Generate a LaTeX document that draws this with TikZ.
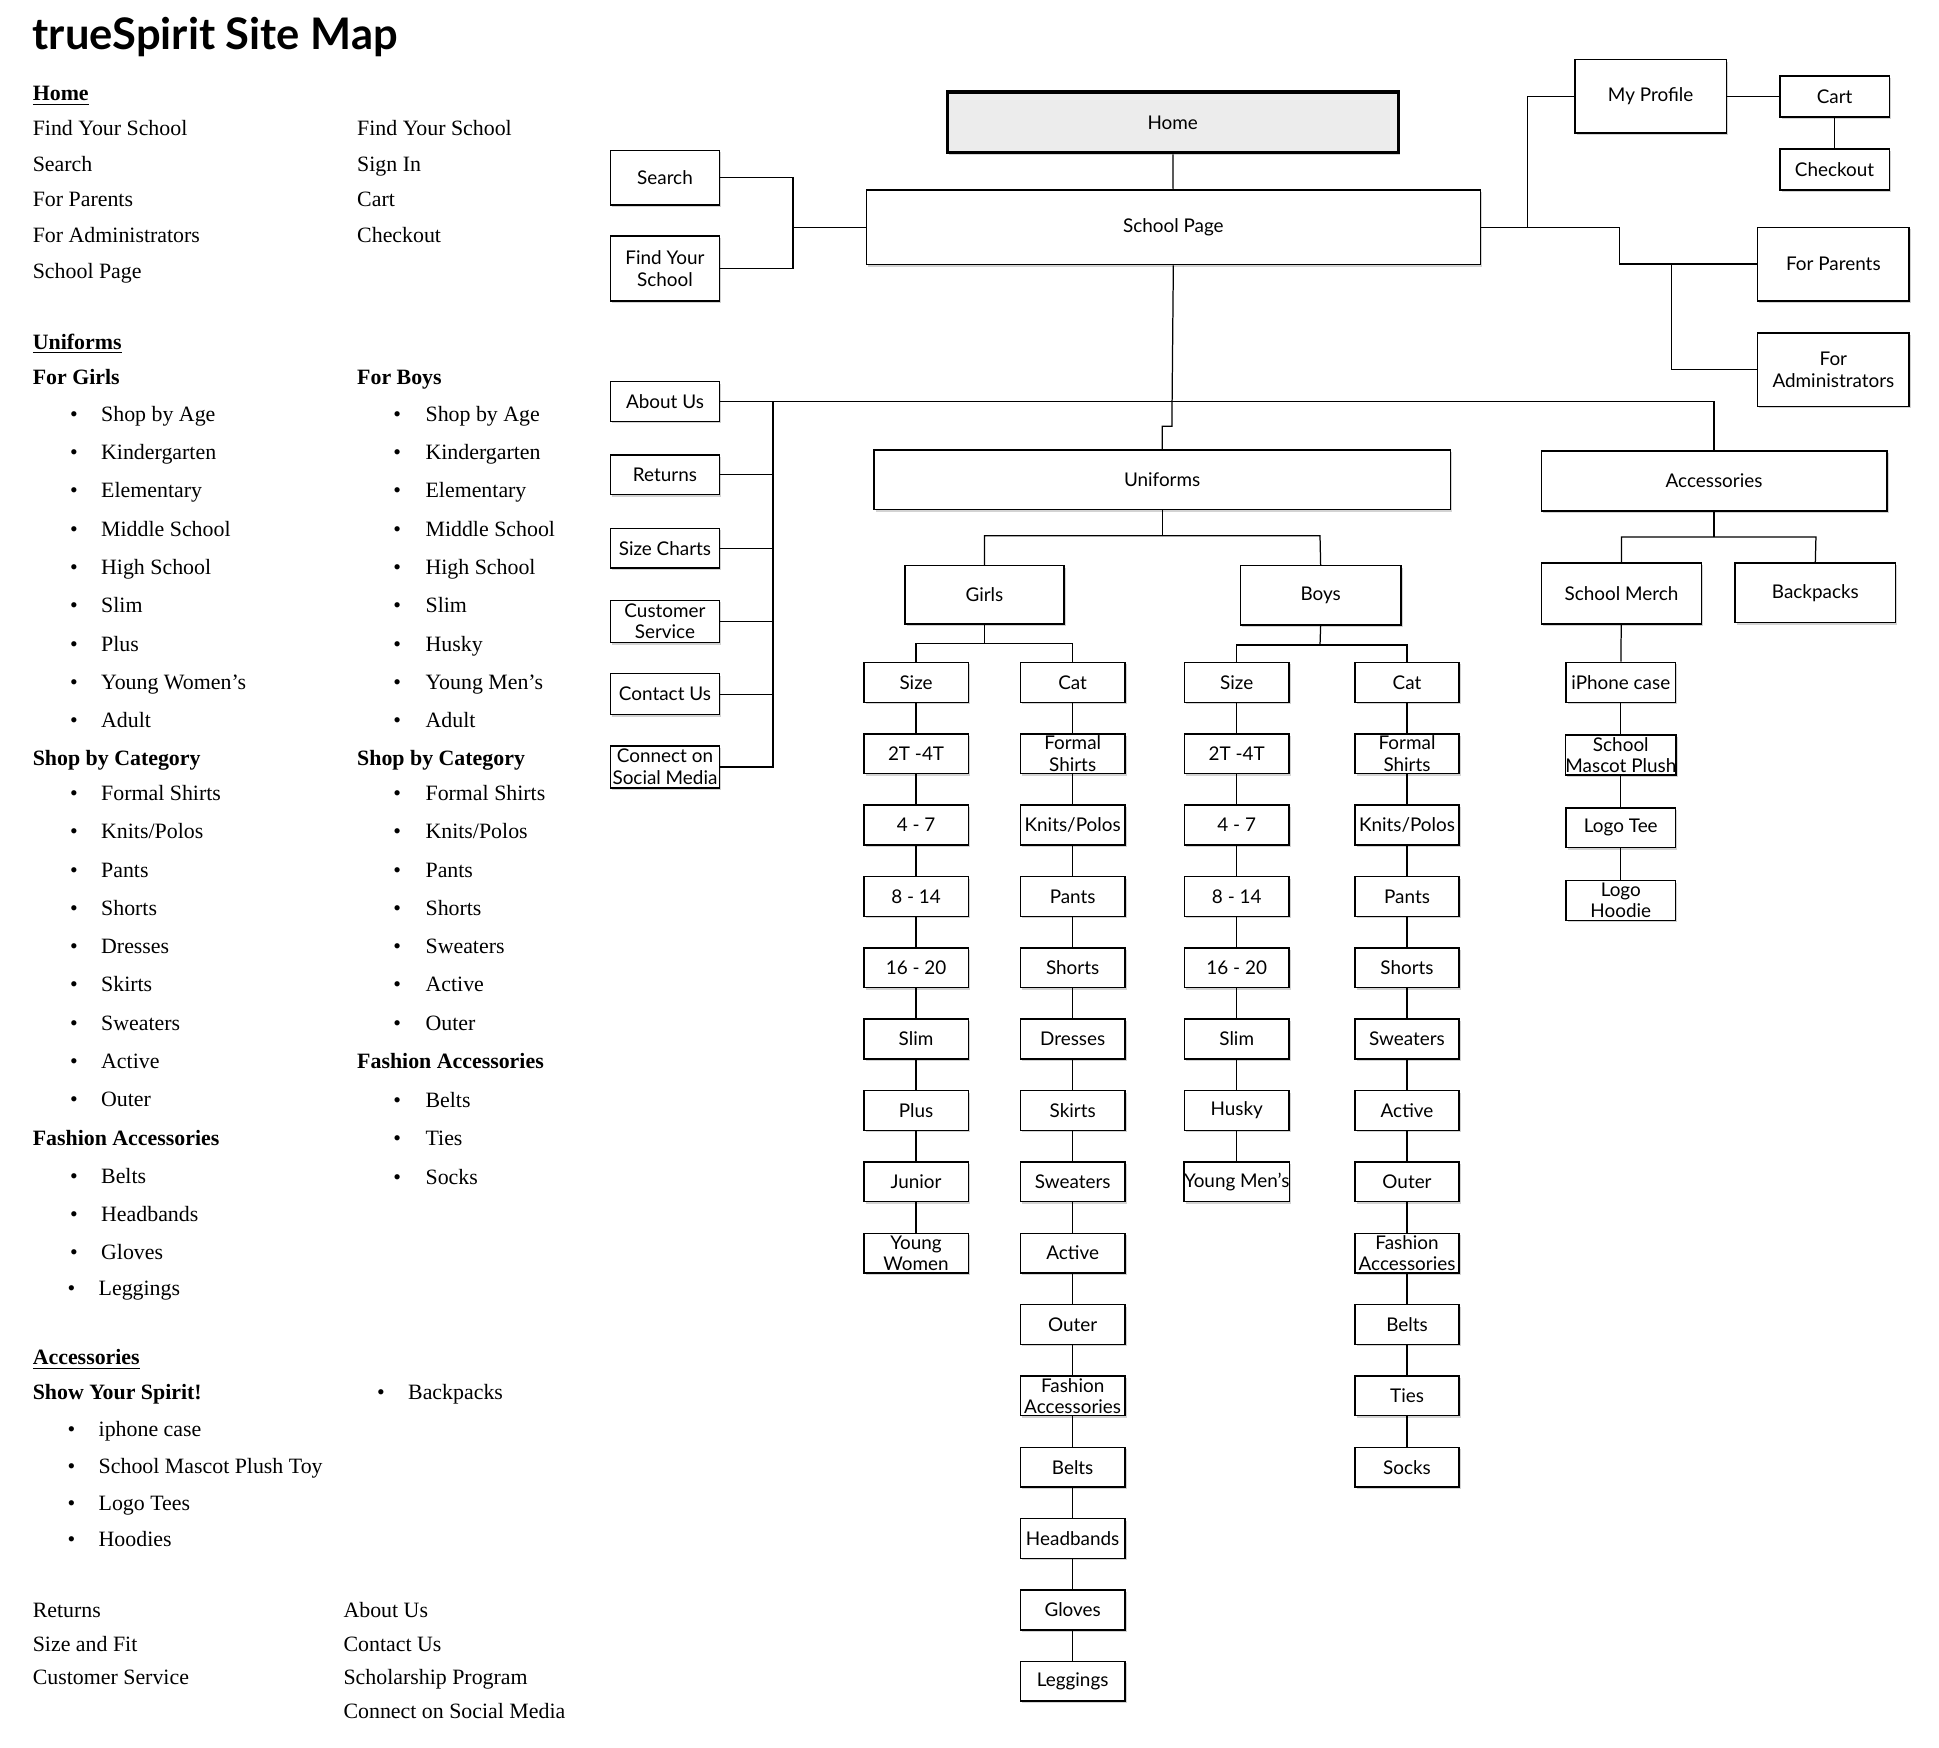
\documentclass[tikz,border=0pt]{standalone}
\usepackage{fontspec}
\setmainfont{Liberation Serif}
\newfontfamily\gill{Lato}
\usetikzlibrary{shadows}
\tikzset{
 box/.style={draw, fill=white, line width=0.6pt, inner sep=0pt, align=center, font=\gill\fontsize{7.6}{8.6}\selectfont,
   drop shadow={shadow xshift=0.7pt, shadow yshift=-0.8pt, opacity=0.35}},
 conn/.style={line width=0.5pt},
 lt/.style={anchor=base west, inner sep=0pt, font=\fontsize{8.8}{10}\selectfont},
 lb/.style={lt, font=\bfseries\fontsize{8.8}{10}\selectfont},
}
\newcommand\bx[6]{\node[box, minimum width={(#4-#2)*0.5pt}, minimum height={(#5-#3)*0.5pt}] (#1) at ({(#2+#4)/2},{(#3+#5)/2}) {#6};}
\begin{document}
\begin{tikzpicture}[x=0.5pt,y=-0.5pt]
\useasboundingbox (0,0) rectangle (1560,1406);
\node[anchor=base west, inner sep=0pt, font=\gill\bfseries\fontsize{17.5}{20}\selectfont] (title) at (26,40) {trueSpirit Site Map};
% ---------- left text
\node[lb] (t1) at (26,81) {\underline{Home}};
\foreach \t [count=\i] in {Find Your School,Search,For Parents,For Administrators,School Page}
  \node[lt] (ha\i) at (26,{109+(\i-1)*28.7}) {\t};
\foreach \t [count=\i] in {Find Your School,Sign In,Cart,Checkout}
  \node[lt] (hb\i) at (287,{109+(\i-1)*28.7}) {\t};
\node[lb] (t2) at (26,281) {\underline{Uniforms}};
\node[lb] (t3) at (26,309) {For Girls};
\node[lb] (t4) at (287,309) {For Boys};
\foreach \t [count=\i] in {Shop by Age,Kindergarten,Elementary,Middle School,High School,Slim,Plus,Young Women’s,Adult}
  {\node[lt] (ga\i) at (56,{339+(\i-1)*30.8}) {•}; \node[lt] (gt\i) at (81,{339+(\i-1)*30.8}) {\t};}
\foreach \t [count=\i] in {Shop by Age,Kindergarten,Elementary,Middle School,High School,Slim,Husky,Young Men’s,Adult}
  {\node[lt] (ba\i) at (316,{339+(\i-1)*30.8}) {•}; \node[lt] (bt\i) at (342,{339+(\i-1)*30.8}) {\t};}
\node[lb] (t5) at (26,616) {Shop by Category};
\node[lb] (t6) at (287,616) {Shop by Category};
\foreach \t [count=\i] in {Formal Shirts,Knits/Polos,Pants,Shorts,Dresses,Skirts,Sweaters,Active,Outer}
  {\node[lt] (gc\i) at (56,{644+(\i-1)*30.8}) {•}; \node[lt] (gd\i) at (81,{644+(\i-1)*30.8}) {\t};}
\foreach \t [count=\i] in {Formal Shirts,Knits/Polos,Pants,Shorts,Sweaters,Active,Outer}
  {\node[lt] (bc\i) at (316,{644+(\i-1)*30.8}) {•}; \node[lt] (bd\i) at (342,{644+(\i-1)*30.8}) {\t};}
\node[lb] (t7) at (26,922) {Fashion Accessories};
\node[lb] (t8) at (287,860) {Fashion Accessories};
\foreach \t [count=\i] in {Belts,Headbands,Gloves}
  {\node[lt] (ge\i) at (56,{952+(\i-1)*30.8}) {•}; \node[lt] (gf\i) at (81,{952+(\i-1)*30.8}) {\t};}
\node[lt] (ge4) at (54,1042) {•}; \node[lt] (gf4) at (79,1042) {Leggings};
\foreach \t [count=\i] in {Belts,Ties,Socks}
  {\node[lt] (be\i) at (316,{891+(\i-1)*30.8}) {•}; \node[lt] (bf\i) at (342,{891+(\i-1)*30.8}) {\t};}
\node[lb] (t9) at (26,1098) {\underline{Accessories}};
\node[lb] (t10) at (26,1126) {Show Your Spirit!};
\node[lt] (ab0) at (303,1126) {•}; \node[lt] (at0) at (328,1126) {Backpacks};
\foreach \t [count=\i] in {iphone case,School Mascot Plush Toy,Logo Tees,Hoodies}
  {\node[lt] (ab\i) at (54,{1156+(\i-1)*29.5}) {•}; \node[lt] (at\i) at (79,{1156+(\i-1)*29.5}) {\t};}
\foreach \t [count=\i] in {Returns,Size and Fit,Customer Service}
  \node[lt] (fa\i) at (26,{1301+(\i-1)*27.3}) {\t};
\foreach \t [count=\i] in {About Us,Contact Us,Scholarship Program,Connect on Social Media}
  \node[lt] (fb\i) at (276,{1301+(\i-1)*27.3}) {\t};
% ---------- boxes
\node[draw, line width=1.3pt, fill=gray!15, minimum width=181.5pt, minimum height=24.5pt, inner sep=0pt, font=\gill\fontsize{7.6}{8.6}\selectfont, drop shadow={shadow xshift=0.7pt, shadow yshift=-0.8pt, opacity=0.35}] (home) at (943.5,98.5) {Home};
\bx{sp}{697}{153}{1191}{213}{School Page}
\bx{search}{491}{121}{579}{165}{Search}
\bx{find}{491}{190}{579}{242}{Find Your\\School}
\bx{prof}{1267}{48}{1389}{107}{My Profile}
\bx{cart}{1432}{61}{1520}{94}{Cart}
\bx{chk}{1432}{120}{1520}{153}{Checkout}
\bx{par}{1414}{183}{1536}{242}{For Parents}
\bx{adm}{1414}{268}{1536}{327}{For\\Administrators}
\bx{about}{491}{307}{579}{339}{About Us}
\bx{ret}{491}{366}{579}{398}{Returns}
\bx{size}{491}{425}{579}{457}{Size Charts}
\bx{cust}{491}{483}{579}{517}{Customer\\Service}
\bx{cont}{491}{542}{579}{575}{Contact Us}
\bx{soc}{491}{600}{579}{634}{Connect on\\Social Media}
\bx{uni}{703}{362}{1167}{410}{Uniforms}
\bx{acc}{1240}{363}{1518}{411}{Accessories}
\bx{girls}{728}{455}{856}{502}{Girls}
\bx{boys}{998}{455}{1127}{503}{Boys}
\bx{merch}{1240}{453}{1369}{502}{School Merch}
\bx{back}{1396}{453}{1525}{501}{Backpacks}
% columns
\newcommand\col[3]{%
 \foreach \t [count=\i] in {#3} {
   \node[box, minimum width=42pt, minimum height=16pt] (#1\i) at (#2,{549+(\i-1)*57.4}) {\t};
   \ifnum\i>1 \pgfmathtruncatemacro\j{\i-1}\draw[conn] (#1\j) -- (#1\i);\fi
 }}
\col{gs}{737}{Size,2T -4T,4 - 7,8 - 14,16 - 20,Slim,Plus,Junior,Young\\Women}
\col{gc}{863}{Cat,Formal\\Shirts,Knits/Polos,Pants,Shorts,Dresses,Skirts,Sweaters,Active,Outer,Fashion\\Accessories,Belts,Headbands,Gloves,Leggings}
\col{bs}{995}{Size,2T -4T,4 - 7,8 - 14,16 - 20,Slim,Husky,Young Men’s}
\col{bc}{1132}{Cat,Formal\\Shirts,Knits/Polos,Pants,Shorts,Sweaters,Active,Outer,Fashion\\Accessories,Belts,Ties,Socks}
\foreach \t [count=\i] in {iPhone case,School\\Mascot Plush,Logo Tee,Logo\\Hoodie} {
  \node[box, minimum width=44pt, minimum height=16pt] (ac\i) at (1304,{549+(\i-1)*58.5}) {\t};}
% ---------- connectors
\draw[conn] (home) -- (sp);
\coordinate (j1) at (638,183);
\draw[conn] (search.east) -| (j1) |- (find.east);
\draw[conn] (j1) -- (sp.west);
\draw[conn] (sp.east) -- (1229,183) |- (prof.west);
\draw[conn] (prof) -- (cart);
\draw[conn] (cart) -- (chk);
\draw[conn] (1229,183) -- (1303,183) |- (par.west);
\draw[conn] (1345,212) |- (adm.west);
\coordinate (j2) at (943,323);
\draw[conn] (sp.south) -- (j2) -- (943,343) -- (935,343) -- (uni.north);
\draw[conn] (about.east) -- (1379,323) -- (acc.north);
\draw[conn] (622,323) |- (soc.east);
\foreach \n in {ret,size,cust,cont} \draw[conn] (\n.east) -- (\n.east -| 622,0);
\draw[conn] (uni.south) -- (935,431);
\draw[conn] (girls.north) |- (1062,431) -- (boys.north);
\draw[conn] (acc.south) -- (1379,432);
\draw[conn] (merch.north) |- (1461,432) -- (back.north);
\draw[conn] (girls.south) -- (792,518);
\draw[conn] (gs1.north) |- (863,518) -- (gc1.north);
\draw[conn] (boys.south) -- (1062,519);
\draw[conn] (bs1.north) |- (1132,519) -- (bc1.north);
\draw[conn] (merch) -- (ac1);
\draw[conn] (ac1) -- (ac2);
\draw[conn] (ac2) -- (ac3);
\draw[conn] (ac3) -- (ac4);
\end{tikzpicture}
\end{document}
